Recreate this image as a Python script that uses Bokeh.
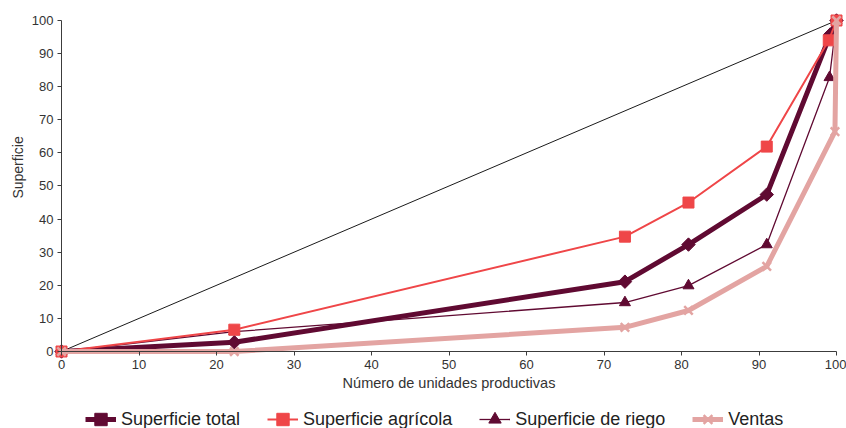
import math
from bokeh.plotting import figure
from bokeh.models import Range1d, FixedTicker, Legend, LegendItem, Label
from bokeh.embed import file_html
from bokeh.resources import INLINE

# ---- data ----
x_total = [0, 22.3, 72.7, 80.9, 91.0, 99.2, 100]
y_total = [0, 2.8, 21.1, 32.3, 47.4, 95.8, 100]

x_agri = [0, 22.3, 72.7, 80.9, 91.0, 99.0, 100]
y_agri = [0, 6.6, 34.7, 45.0, 61.9, 94.0, 100]

x_riego = [0, 22.3, 72.7, 80.9, 91.0, 99.1, 100]
y_riego = [0, 6.0, 14.8, 19.9, 32.3, 82.8, 100]

x_ventas = [0, 22.3, 72.7, 80.9, 91.0, 99.8, 100]
y_ventas = [0, 0, 7.3, 12.4, 25.7, 66.4, 100]

x_diag = [0, 100]
y_diag = [0, 100]

x_ticks = [0, 10, 20, 30, 40, 50, 60, 70, 80, 90, 100]
y_ticks = [0, 10, 20, 30, 40, 50, 60, 70, 80, 90, 100]

names = ["Superficie total", "Superficie agrícola", "Superficie de riego", "Ventas"]
x_label = "Número de unidades productivas"
y_label = "Superficie"

FONT = "Liberation Sans"
C_TOTAL = "#600a32"
C_AGRI = "#ef4648"
C_RIEGO = "#600a32"
C_VENTAS = "#e3a4a2"

# frame covers the whole canvas; axes are pinned at x=0 / y=0
p = figure(width=846, height=428, output_backend="svg", toolbar_location=None,
           x_range=Range1d(-7.871, 101.29), y_range=Range1d(-23.26, 106.04),
           min_border_left=0, min_border_right=0, min_border_top=0, min_border_bottom=0)
p.outline_line_color = None
p.xgrid.visible = False
p.ygrid.visible = False
p.background_fill_color = "white"

for ax in (p.xaxis[0], p.yaxis[0]):
    ax.fixed_location = 0
    ax.bounds = (0, 100)
    ax.axis_line_color = "#3c3c3c"
    ax.axis_line_width = 1
    ax.major_tick_line_color = "#3c3c3c"
    ax.major_tick_out = 4
    ax.major_tick_in = 0
    ax.minor_tick_line_color = None
    ax.major_label_text_font = FONT
    ax.major_label_text_font_size = "13px"
    ax.major_label_text_color = "#333333"
    ax.major_label_standoff = 4

p.xaxis[0].ticker = FixedTicker(ticks=x_ticks)
p.yaxis[0].ticker = FixedTicker(ticks=y_ticks)
p.xaxis[0].axis_label = x_label
p.xaxis[0].axis_label_text_font = FONT
p.xaxis[0].axis_label_text_font_size = "14.5px"
p.xaxis[0].axis_label_text_font_style = "normal"
p.xaxis[0].axis_label_text_color = "#333333"
p.xaxis[0].axis_label_standoff = 3

# diagonal
p.line(x_diag, y_diag, line_color="#1a1a1a", line_width=1)

# series
l_tot = p.line(x_total, y_total, line_color=C_TOTAL, line_width=5, line_join="round")
m_tot = p.scatter(x_total, y_total, marker="square", angle=math.pi / 4, size=9.5,
                  fill_color=C_TOTAL, line_color=C_TOTAL)

l_rie = p.line(x_riego, y_riego, line_color=C_RIEGO, line_width=1.3)
m_rie = p.scatter(x_riego, y_riego, marker="triangle", size=11,
                  fill_color=C_RIEGO, line_color=C_RIEGO)

l_agr = p.line(x_agri, y_agri, line_color=C_AGRI, line_width=2)
m_agr = p.scatter(x_agri, y_agri, marker="square", size=11,
                  fill_color=C_AGRI, line_color=C_AGRI)

l_ven = p.line(x_ventas, y_ventas, line_color=C_VENTAS, line_width=5, line_join="round")
m_ven = p.scatter(x_ventas, y_ventas, marker="x", size=12, line_width=2.5,
                  line_color=C_VENTAS)

# y-axis title
p.add_layout(Label(x=-5.55, y=55.6, text=y_label, angle=math.pi / 2,
                   text_align="center", text_baseline="middle",
                   text_font=FONT, text_font_size="14px", text_color="#333333"))

legend = Legend(items=[
    LegendItem(label=names[0], renderers=[l_tot, m_tot]),
    LegendItem(label=names[1], renderers=[l_agr, m_agr]),
    LegendItem(label=names[2], renderers=[l_rie, m_rie]),
    LegendItem(label=names[3], renderers=[l_ven, m_ven]),
], orientation="horizontal", location=(85, -7))
legend.padding = 0
legend.margin = 0
legend.spacing = 27
legend.glyph_width = 31
legend.glyph_height = 32
legend.label_standoff = 5
legend.label_text_font = FONT
legend.label_text_font_size = "18px"
legend.label_text_color = "#222222"
legend.border_line_alpha = 0
legend.background_fill_alpha = 0
p.add_layout(legend, "center")

open("out.html", "w").write(file_html(p, INLINE))
